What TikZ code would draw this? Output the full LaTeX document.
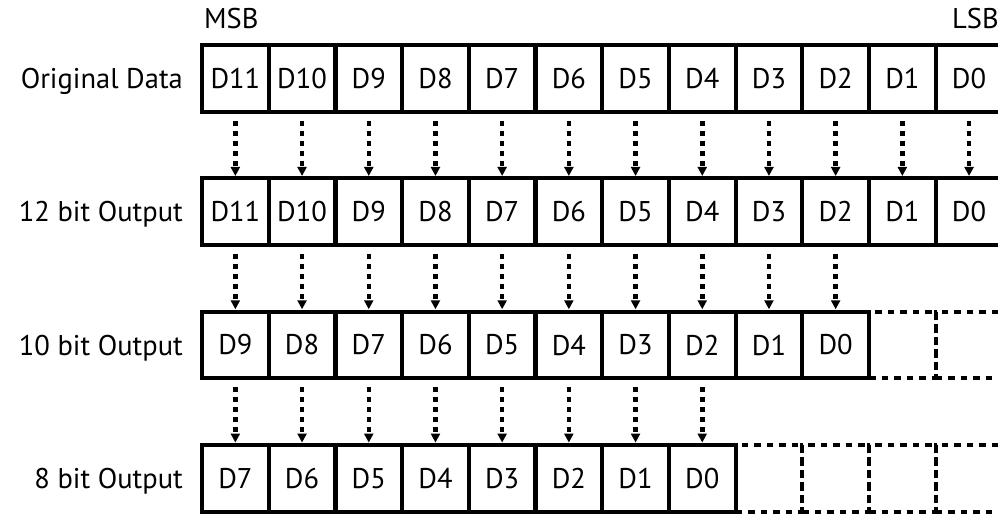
\documentclass[tikz,border=0pt]{standalone}
\usepackage{fontspec}
\setmainfont{PT Sans}
\usetikzlibrary{arrows.meta}
\begin{document}
\begin{tikzpicture}[x=1pt,y=-1pt,
  cell/.style={draw, line width=4.2pt, minimum width=66.7pt, minimum height=66.7pt, inner sep=0, font=\fontsize{28.5}{32}\selectfont},
  ghost/.style={draw, line width=4.2pt, dash pattern=on 6.5pt off 6pt, minimum width=66.7pt, minimum height=66.7pt, inner sep=0},
  lbl/.style={anchor=base east, inner sep=0, font=\fontsize{28.5}{32}\selectfont},
  hdr/.style={anchor=base west, inner sep=0, font=\fontsize{28.5}{32}\selectfont},
  flow/.style={line width=4.5pt, dash pattern=on 5pt off 5pt, -{Triangle[width=9pt,length=9pt]}, shorten <=7pt, shorten >=0.3pt}
]
\useasboundingbox (0,0) rectangle (998,515);
\clip (0,0) rectangle (998,515);
% header
\node[hdr] (msb) at (204,28) {MSB};
\node[hdr] (lsb) at (952,28) {LSB};
% row labels
\node[lbl] (l1) at (183,88.3) {Original Data};
\node[lbl] (l2) at (183,221.7) {12 bit Output};
\node[lbl] (l3) at (183,355) {10 bit Output};
\node[lbl] (l4) at (183,488.3) {8 bit Output};
% empty (dashed) cells
\foreach \i in {10,11} \node[ghost] (r3c\i) at (235.35+66.7*\i,345) {};
\foreach \i in {8,...,11} \node[ghost] (r4c\i) at (235.35+66.7*\i,478.3) {};
% solid cells
\foreach \i in {0,...,11}{
  \pgfmathtruncatemacro\d{11-\i}
  \node[cell] (r1c\i) at (235.35+66.7*\i,78.3) {D\d};
  \node[cell] (r2c\i) at (235.35+66.7*\i,211.7) {D\d};
}
\foreach \i in {0,...,9}{
  \pgfmathtruncatemacro\d{9-\i}
  \node[cell] (r3c\i) at (235.35+66.7*\i,345) {D\d};
}
\foreach \i in {0,...,7}{
  \pgfmathtruncatemacro\d{7-\i}
  \node[cell] (r4c\i) at (235.35+66.7*\i,478.3) {D\d};
}
% arrows
\foreach \i in {0,...,11} \draw[flow] (r1c\i.south) -- (r2c\i.north);
\foreach \i in {0,...,9} \draw[flow] (r2c\i.south) -- (r3c\i.north);
\foreach \i in {0,...,7} \draw[flow] (r3c\i.south) -- (r4c\i.north);
\end{tikzpicture}
\end{document}
